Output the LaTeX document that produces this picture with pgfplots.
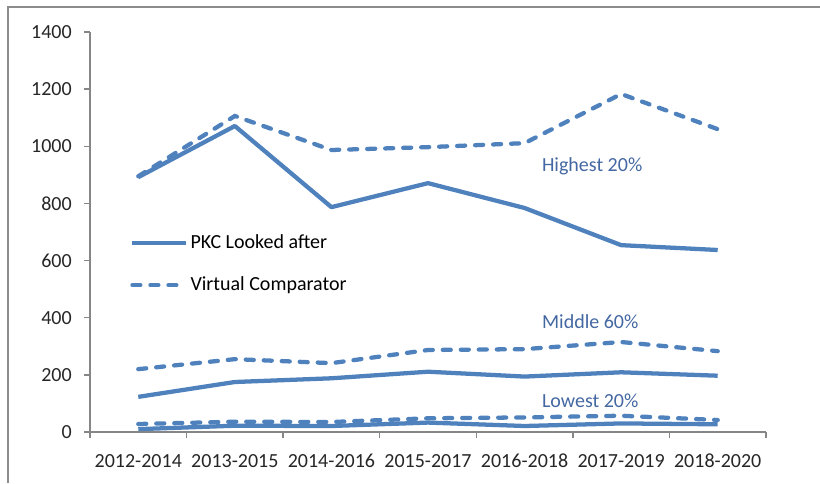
\documentclass[border=0pt]{standalone}
\usepackage{fontspec}
\setmainfont{Carlito}
\usepackage{pgfplots}
\pgfplotsset{compat=1.18}
\definecolor{lineblue}{RGB}{79,129,189}
\definecolor{txtblue}{RGB}{68,104,162}
\definecolor{axgray}{RGB}{134,134,134}
\definecolor{frame}{RGB}{140,140,140}
\begin{document}
\fontsize{15}{18}\selectfont
\begin{tikzpicture}[x=1pt,y=1pt]
\path[use as bounding box] (0,0) rectangle (615,362.25);
\draw[frame, line width=1.5pt] (6,0) -- (6,357) -- (616,357);
\begin{axis}[
  at={(67.5pt,38.25pt)}, anchor=south west,
  scale only axis, width=507pt, height=300pt,
  xmin=-0.5, xmax=6.5, ymin=0, ymax=1400,
  axis lines*=left,
  axis line style={axgray, line width=1pt},
  xtick={0,...,6},
  xticklabels={2012-2014,2013-2015,2014-2016,2015-2017,2016-2018,2017-2019,2018-2020},
  minor xtick={-0.5,0.5,...,6.5},
  major x tick style={draw=none},
  minor tick length=4.5pt,
  ytick={0,200,...,1400},
  major tick length=4.5pt,
  tick align=outside,
  tick style={axgray, line width=1pt},
  tick label style={text=black!85},
  /pgf/number format/assume math mode=true,
  /pgf/number format/1000 sep={},
  xticklabel style={yshift=-7pt},
  yticklabel style={xshift=-4pt},
  legend style={at={(0.0592,0.42)}, anchor=west, draw=none, fill=none,
    row sep=15pt, font=\fontsize{15}{18}\selectfont, inner sep=0pt,
    nodes={inner sep=2pt}},
  legend cell align=left,
  legend image code/.code={\draw[#1] (0pt,0pt) -- (40pt,0pt);},
  clip=false,
]
\addplot[lineblue, line width=3.2pt, line join=round] coordinates {(0,892) (1,1071) (2,787) (3,871) (4,784) (5,654) (6,637)};
\addlegendentry{PKC Looked after}
\addplot[lineblue, line width=3.2pt, line cap=round, dash pattern=on 6pt off 7.5pt] coordinates {(0,895) (1,1106) (2,987) (3,997) (4,1011) (5,1183) (6,1060)};
\addlegendentry{Virtual Comparator}
\addplot[lineblue, line width=3.2pt, line join=round, forget plot] coordinates {(0,123) (1,175) (2,188) (3,211) (4,194) (5,209) (6,197)};
\addplot[lineblue, line width=3.2pt, line cap=round, dash pattern=on 6pt off 7.5pt, forget plot] coordinates {(0,220) (1,255) (2,241) (3,287) (4,290) (5,315) (6,283)};
\addplot[lineblue, line width=3.2pt, line join=round, forget plot] coordinates {(0,10) (1,22) (2,21) (3,33) (4,21) (5,30) (6,27)};
\addplot[lineblue, line width=3.2pt, line cap=round, dash pattern=on 6pt off 7.5pt, forget plot] coordinates {(0,28) (1,36) (2,35) (3,48) (4,51) (5,57) (6,42)};
\node[txtblue] at (axis cs:4.7,931) {Highest 20\%};
\node[txtblue] at (axis cs:4.68,385) {Middle 60\%};
\node[txtblue] at (axis cs:4.68,108) {Lowest 20\%};
\end{axis}
\end{tikzpicture}
\end{document}
